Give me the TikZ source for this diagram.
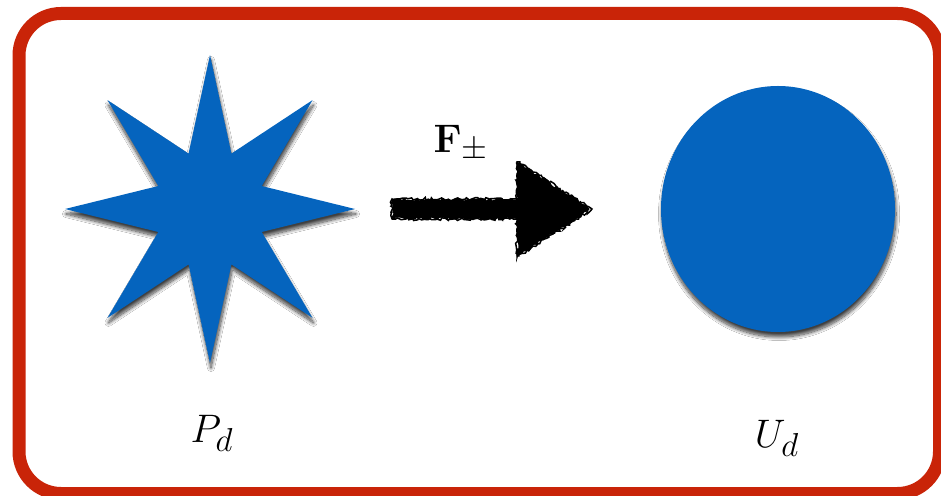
\documentclass[tikz,border=0pt]{standalone}
\usepackage{amsmath}
\usetikzlibrary{shadows.blur,decorations.pathmorphing,calc}
\definecolor{framered}{RGB}{201,36,8}
\definecolor{shapeblue}{RGB}{5,100,190}
\tikzset{
  frame/.style={draw=framered,line width=13pt,rounded corners=42pt},
  blob/.style={fill=shapeblue,blur shadow={shadow xshift=1pt,shadow yshift=-5pt,shadow blur radius=3.5pt,shadow opacity=75,shadow blur steps=12}},
  rough/.style={decorate,decoration={random steps,segment length=2.5pt,amplitude=1.6pt}},
  lbl/.style={anchor=base,inner sep=0pt,font=\Huge,scale=1.6}
}
\begin{document}
\begin{tikzpicture}[x=1pt,y=1pt]
\useasboundingbox (0,0) rectangle (941,495);
\fill[white] (0,0) rectangle (941,495);
% frame
\draw[frame] (19,481.5) rectangle (939.5,1.5);
% star
\coordinate (starc) at (210,286);
\fill[blob] (355,286)
  \foreach \k in {0,...,7} {
    -- ({210+56*cos(45*\k+22.5)},{286+60*sin(45*\k+22.5)})
    -- ({210+145*cos(45*(\k+1))},{286+154*sin(45*(\k+1))})
  } -- cycle;
% disc
\coordinate (discc) at (778,286);
\fill[blob] (discc) ellipse [x radius=117, y radius=123];
% arrow
\coordinate (aS) at (392,286);
\coordinate (aB) at (517,286);
\coordinate (aE) at (592,286);
\fill[black,rough] ($(aS)+(0,10)$) -- ($(aB)+(0,10)$) -- ($(aB)+(0,47)$) -- (aE)
  -- ($(aB)+(0,-48)$) -- ($(aB)+(0,-10)$) -- ($(aS)+(0,-10)$) -- cycle;
\draw[black,line width=1.5pt,rough] ($(aS)+(0,10)$) -- ($(aB)+(0,10)$) -- ($(aB)+(0,47)$) -- (aE)
  -- ($(aB)+(0,-48)$) -- ($(aB)+(0,-10)$) -- ($(aS)+(0,-10)$) -- cycle;
% labels
\node[lbl] (F) at (461,342) {$\mathbf{F}_{\pm}$};
\node[lbl] (Pd) at (212,53) {$P_d$};
\node[lbl] (Ud) at (777,48) {$U_d$};
\end{tikzpicture}
\end{document}
